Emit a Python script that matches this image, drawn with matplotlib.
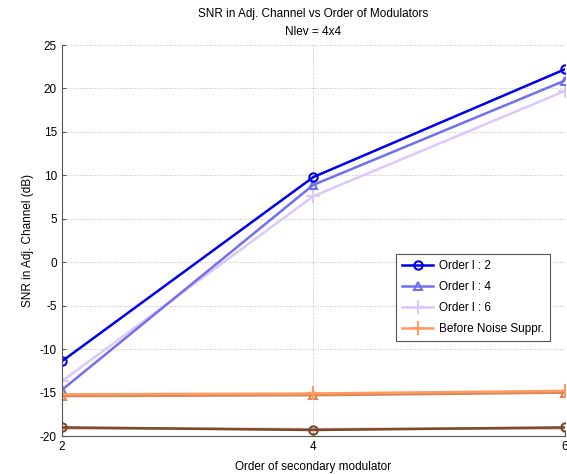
import matplotlib
matplotlib.use("Agg")
import matplotlib.pyplot as plt

plt.rcParams['font.family'] = ['Liberation Sans', 'DejaVu Sans']
plt.rcParams['axes.unicode_minus'] = False

# order of secondary modulator
order = [2, 4, 6]

# SNR in adjacent channel (dB)
snr_l2 = [-11.4, 9.8, 22.2]
snr_l4 = [-14.7, 8.9, 20.9]
snr_l6 = [-13.7, 7.6, 19.7]
snr_before = [-15.2, -15.1, -14.8]
# extra curves (not in legend)
snr_before_b = [-15.4, -15.3, -15.0]
snr_low_a = [-19.0, -19.3, -19.0]
snr_low_b = [-19.1, -19.2, -19.1]

fig = plt.figure(figsize=(5.67, 4.74), dpi=100)
ax = fig.add_axes([0.109, 0.080, 0.887, 0.825])

ax.plot(order, snr_before_b, color="#d9865a", lw=1.8, marker="^", ms=6, mfc="none", mew=1.5)
ax.plot(order, snr_low_b, color="#c9a48c", lw=1.8)
ax.plot(order, snr_low_a, color="#7a4a2a", lw=1.8, marker="o", ms=6, mfc="none", mew=1.5)

l6, = ax.plot(order, snr_l6, color="#ddc8fa", lw=1.8, marker="+", ms=10, mew=1.5, label="Order l : 6")
l4, = ax.plot(order, snr_l4, color="#7070f0", lw=1.8, marker="^", ms=6, mfc="none", mew=1.5, label="Order l : 4")
l2, = ax.plot(order, snr_l2, color="#0000ee", lw=1.8, marker="o", ms=6, mfc="none", mew=1.5, label="Order l : 2")
lb, = ax.plot(order, snr_before, color="#ff9a60", lw=1.8, marker="+", ms=10, mew=1.5, label="Before Noise Suppr.")

ax.set_xlim(2, 6)
ax.set_ylim(-20, 25)
ax.set_xticks([2, 4, 6])
ax.set_yticks(range(-20, 26, 5))
ax.grid(True, color="#aaaaaa", linestyle=(0, (1, 2)), linewidth=0.6)
ax.spines['top'].set_visible(False)
ax.spines['right'].set_visible(False)
for s in ['left', 'bottom']:
    ax.spines[s].set_color("#555555")
ax.tick_params(labelsize=8.5, direction="in", length=3, color="#555555")

ax.set_xlabel("Order of secondary modulator", fontsize=8.5, labelpad=6)
ax.set_ylabel("SNR in Adj. Channel (dB)", fontsize=8.5)
ax.set_title("SNR in Adj. Channel vs Order of Modulators\nNlev = 4x4", fontsize=8.5,
             pad=7, linespacing=1.7)

leg = ax.legend(handles=[l2, l4, l6, lb], loc="lower left", bbox_to_anchor=(0.658, 0.235),
                fontsize=8.5, fancybox=False, framealpha=1, edgecolor="#555555",
                handlelength=2.6, handletextpad=0.5, borderpad=0.5, labelspacing=0.75,
                borderaxespad=0.3)
leg.get_frame().set_linewidth(0.8)

plt.savefig("out.png", dpi=100)
